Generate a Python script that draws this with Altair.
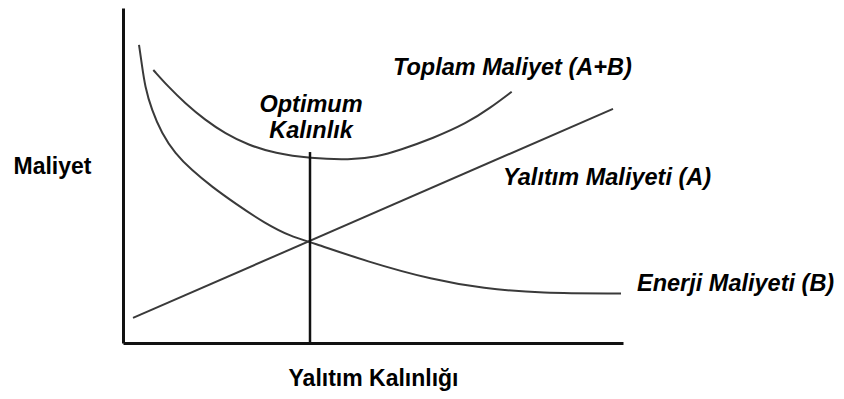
import altair as alt
import pandas as pd

# Energy cost (B) curve
energy_x = [3.2, 3.74, 4.4, 5.74, 7.74, 10.4, 13.74, 17.74, 22.4, 28.4, 33.74,
            37.4, 48.74, 62.06, 72.0, 83.4, 99.6]
energy_y = [89.0, 83.5, 76.5, 69.6, 62.6, 56.6, 51.6, 46.7, 41.7, 35.7, 31.7,
            30.2, 24.3, 18.8, 16.3, 14.8, 14.8]

# Total cost (A+B) curve
total_x = [6.06, 9.06, 12.4, 16.4, 20.4, 25.06, 30.4, 37.4, 45.4, 50.74, 55.4,
           62.0, 68.74, 73.4, 77.74]
total_y = [81.5, 76.5, 71.6, 66.6, 62.6, 59.1, 56.6, 55.1, 54.6, 55.6, 57.6,
           61.1, 65.6, 70.1, 75.0]

# Insulation cost (A) line
insul_x = [2.0, 98.0]
insul_y = [7.5, 69.9]

# Optimum thickness marker
opt_x = [37.4]
opt_y = [0.0]
opt_y2 = [57.0]

# Labels
label_text = ["Toplam Maliyet (A+B)", "Optimum", "Kalınlık",
              "Yalıtım Maliyeti (A)", "Enerji Maliyeti (B)"]
label_x = [54.0, 37.6, 37.6, 76.0, 102.8]
label_y = [80.0, 69.0, 61.2, 47.2, 15.5]
label_align = ["left", "center", "center", "left", "left"]

FONT = "Liberation Sans"

curves = pd.concat([
    pd.DataFrame({"x": energy_x, "y": energy_y, "series": "B", "o": range(len(energy_x))}),
    pd.DataFrame({"x": total_x, "y": total_y, "series": "A+B", "o": range(len(total_x))}),
    pd.DataFrame({"x": insul_x, "y": insul_y, "series": "A", "o": range(len(insul_x))}),
], ignore_index=True)

opt = pd.DataFrame({"x": opt_x, "y": opt_y, "y2": opt_y2})
labels = pd.DataFrame({"t": label_text, "x": label_x, "y": label_y, "a": label_align})

xscale = alt.Scale(domain=[0, 100], nice=False, zero=False)
yscale = alt.Scale(domain=[0, 100], nice=False, zero=False)

xaxis = alt.Axis(domain=True, domainWidth=3, domainColor="#111111", ticks=False,
                 labels=False, grid=False, title="Yalıtım Kalınlığı",
                 titleFont=FONT, titleFontSize=23, titleFontWeight="bold",
                 titleColor="#000000", titleBaseline="alphabetic",
                 titleAlign="center", titleX=250, titleY=42)
yaxis = alt.Axis(domain=True, domainWidth=3, domainColor="#111111", ticks=False,
                 labels=False, grid=False, title="Maliyet",
                 titleFont=FONT, titleFontSize=23, titleFontWeight="bold",
                 titleColor="#000000", titleAngle=0, titleAlign="left",
                 titleBaseline="alphabetic", titleX=-110, titleY=165)

lines = alt.Chart(curves).mark_line(interpolate="basis", strokeWidth=2,
                                    color="#3a3a3a").encode(
    x=alt.X("x:Q", scale=xscale, axis=xaxis),
    y=alt.Y("y:Q", scale=yscale, axis=yaxis),
    detail="series:N",
    order="o:Q",
)

rule = alt.Chart(opt).mark_rule(strokeWidth=2.5, color="#111111").encode(
    x=alt.X("x:Q", scale=xscale),
    y=alt.Y("y:Q", scale=yscale),
    y2="y2:Q",
)

def text_layer(align):
    return alt.Chart(labels).transform_filter(
        alt.datum.a == align
    ).mark_text(font=FONT, fontSize=23.5, fontWeight="bold", fontStyle="italic",
                align=align, baseline="alphabetic", color="#000000").encode(
        x=alt.X("x:Q", scale=xscale),
        y=alt.Y("y:Q", scale=yscale),
        text="t:N",
    )

chart = alt.layer(lines, rule, text_layer("left"), text_layer("center")).properties(
    width=500, height=335,
    autosize=alt.AutoSizeParams(type="none"),
    padding={"left": 115, "top": 0, "right": 213, "bottom": 48},
    background="#ffffff",
).configure_view(stroke=None)

chart.save("out.html", embed_options={"renderer": "svg", "actions": False})
